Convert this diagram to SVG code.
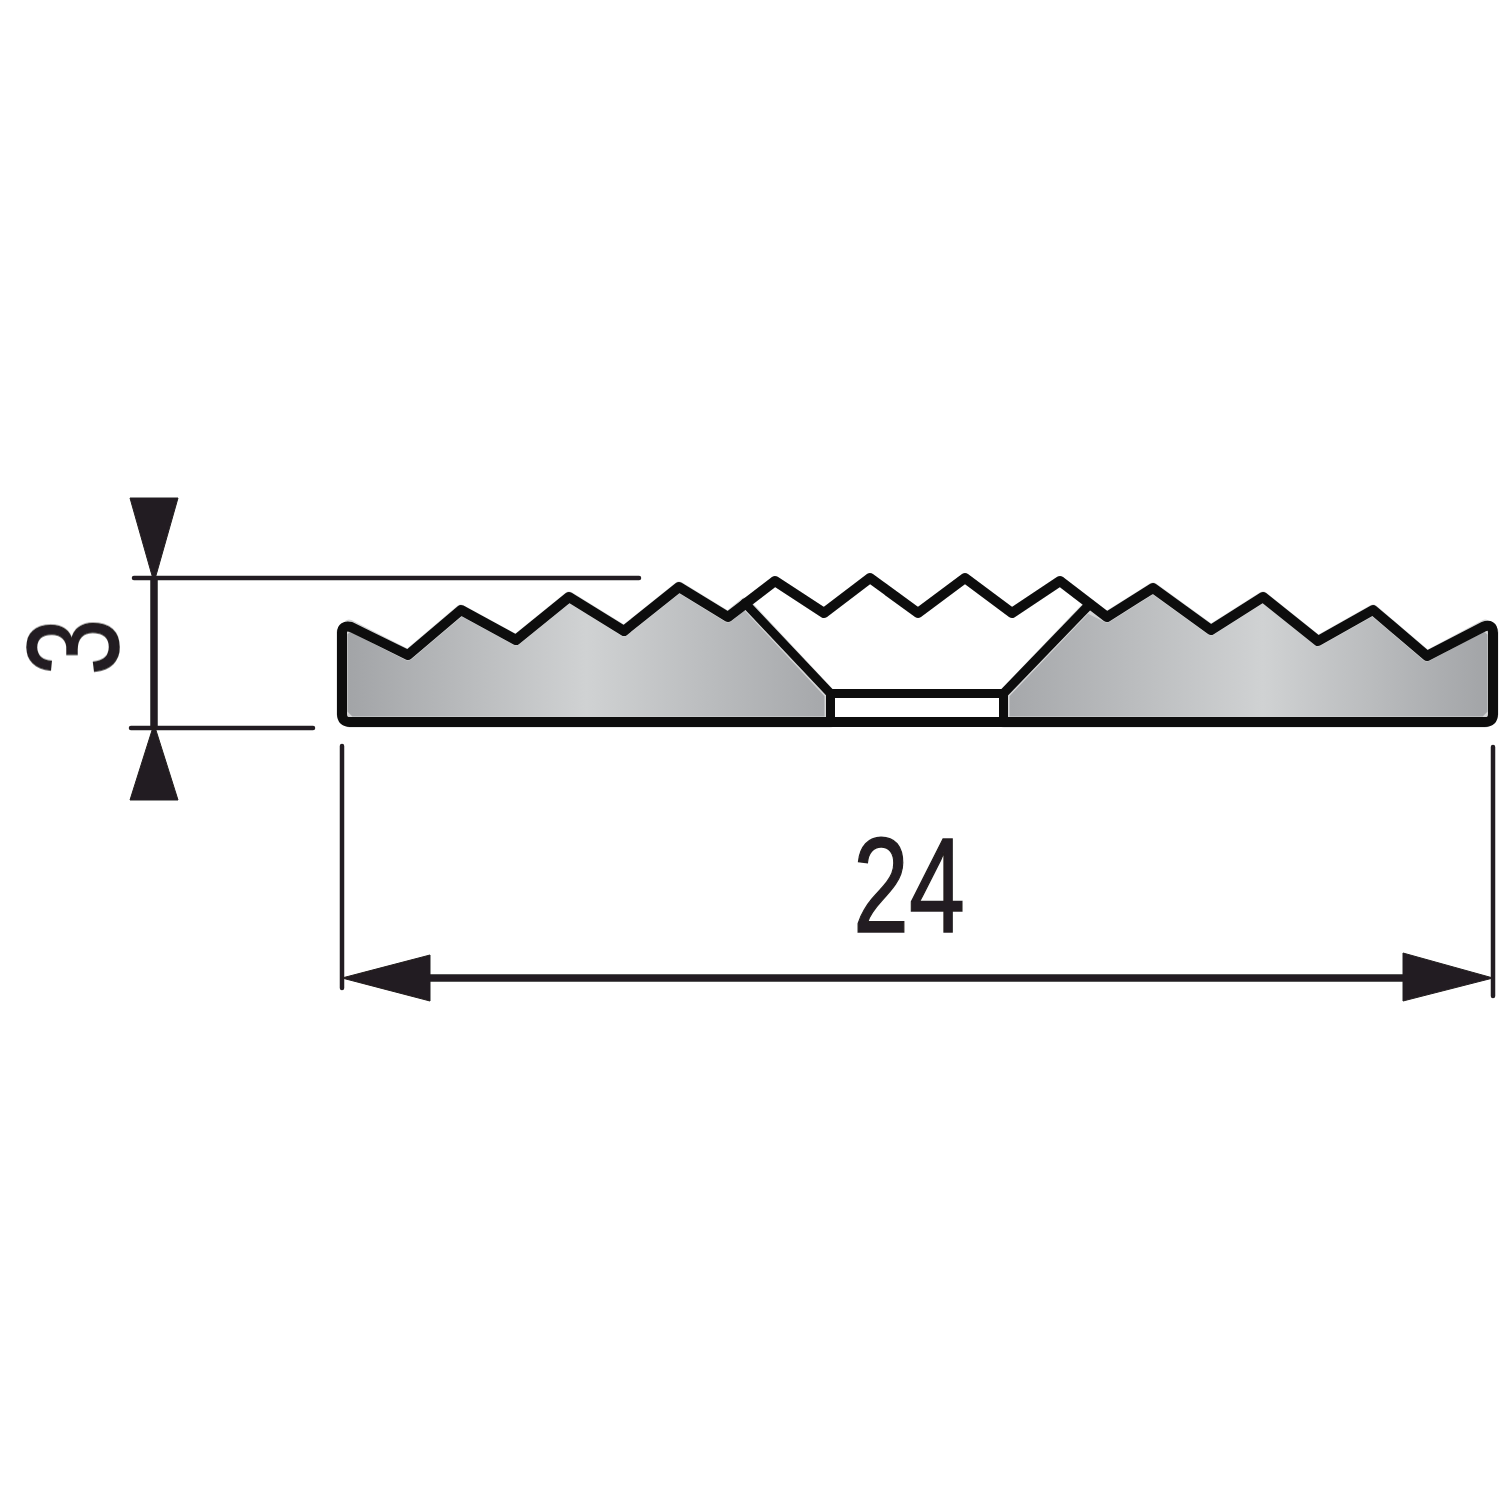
<svg xmlns="http://www.w3.org/2000/svg" width="1500" height="1500" viewBox="0 0 1500 1500">
<style>
.fillL{stroke:#d4d5d6;stroke-width:11;stroke-linejoin:round}
.out{fill:none;stroke:#0a0a0a;stroke-width:10;stroke-linejoin:round;stroke-linecap:round}
.inner{fill:none;stroke:#0a0a0a;stroke-width:9;stroke-linejoin:round;stroke-linecap:round}
.dimthin{fill:none;stroke:#231f20;stroke-width:4.5;stroke-linecap:round}
.dimthick{fill:none;stroke:#231f20;stroke-width:7.5}
.head{fill:#231f20;stroke:#231f20;stroke-width:1;stroke-linejoin:round}
.num{font-family:"Liberation Sans",Arial,sans-serif;fill:#231f20;stroke:#231f20;text-anchor:middle}
.n24{font-size:136px;stroke-width:1.5}
.n3{font-size:130px;stroke-width:1.5}
</style>
<defs>
<linearGradient id="gL" gradientUnits="userSpaceOnUse" x1="342" y1="0" x2="830" y2="0">
<stop offset="0" stop-color="#a1a3a6"/><stop offset="0.5" stop-color="#d0d2d3"/><stop offset="1" stop-color="#a5a7aa"/>
</linearGradient>
<linearGradient id="gR" gradientUnits="userSpaceOnUse" x1="1004" y1="0" x2="1493" y2="0">
<stop offset="0" stop-color="#a5a7aa"/><stop offset="0.53" stop-color="#d0d2d3"/><stop offset="1" stop-color="#a1a3a6"/>
</linearGradient>
<filter id="soft" x="-5%" y="-5%" width="110%" height="110%"><feGaussianBlur stdDeviation="0.7"/></filter>
</defs>
<rect width="1500" height="1500" fill="#ffffff"/>
<g filter="url(#soft)">
<g id="profile">
<polygon class="fillL" fill="url(#gL)" points="342,632 349,625 408,655 461,610 516,640 569,597 624,631 679,587 728,617 745,603 830,694 830,722 350,722 342,714"/>
<polygon class="fillL" fill="url(#gR)" points="1493,632 1485,625 1427,656 1373,610 1318,641 1263,597 1211,630 1153,588 1107,617 1087,607 1004,694 1004,722 1485,722 1493,714"/>
<path class="out" d="M342,714 V633 Q342,625 351,627 L408,655 L461,610 L516,640 L569,597 L624,631 L679,587 L728,617 L775,581 L824,613 L870,578 L918,613 L965,578 L1012,613 L1060,581 L1107,617 L1153,588 L1211,630 L1263,597 L1318,641 L1373,610 L1427,656 L1483,627 Q1493,623 1493,633 V714 Q1493,722 1485,722 H350 Q342,722 342,714 Z"/>
<path class="inner" d="M745,603 L830.5,693.5 H1003.5 L1087,607 M830.5,693.5 V722 M1003.5,693.5 V722"/>
<polygon points="835,698 999,698 999,717 835,717" fill="#ffffff"/>
</g>
<g id="connectors">
<path class="dimthin" d="M134,578 H639 M131,728 H313 M342,746 V988 M1493,747 V996"/>
<path class="dimthick" d="M154,578 V728 M428,978 H1405"/>
<polygon class="head" points="130,498 178,498 157,572 154,582 151,572"/>
<polygon class="head" points="154,724 178,800 130,800"/>
<polygon class="head" points="342,978 430,955 430,1001"/>
<polygon class="head" points="1493,978 1403,953 1403,1001"/>
</g>
<g id="labels">
<text class="num n24" transform="translate(909,932) scale(.74,1)">24</text>
<text class="num n3" transform="translate(118,647) rotate(-90) scale(.78,1)">3</text>
</g>
</g>
</svg>
